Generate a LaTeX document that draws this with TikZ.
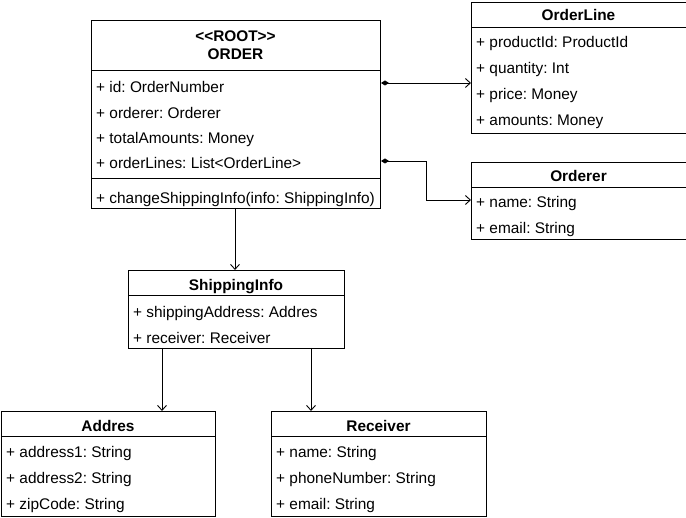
\documentclass[tikz,border=0pt]{standalone}
\usepackage{fontspec}
\setmainfont{Liberation Sans}
\usetikzlibrary{arrows.meta}
\frenchspacing
\begin{document}
\begin{tikzpicture}[x=1pt,y=-1pt,
  every node/.style={font=\fontsize{15.4}{17}\selectfont},
  cls/.style={draw=black,line width=1pt,anchor=north west,inner sep=0pt,fill=white},
  sep/.style={line width=1pt},
  attr/.style={anchor=base west,inner sep=0pt,yshift=-5.5pt},
  head/.style={anchor=base,inner sep=0pt,yshift=-5.5pt,font=\fontsize{15.4}{17}\selectfont\bfseries},
  conn/.style={line width=0.9pt,-{Straight Barb[length=5pt,width=9pt,line width=0.9pt]}},
  comp/.style={line width=0.9pt,{Diamond[length=8pt,width=5pt]}-{Straight Barb[length=5pt,width=9pt,line width=0.9pt]}}
]
\useasboundingbox (0,0) rectangle (686,518);

% ORDER
\node[cls,minimum width=289pt,minimum height=188pt] (order) at (91,20) {};
\node[head] (ordhead) at (235.5,36) {<{}<ROOT>{}>};
\node[head] (ordname) at (235.5,54) {ORDER};
\draw[sep] (91,71) -- (380,71);
\node[attr] (o1) at (96,87) {+ id: OrderNumber};
\node[attr] (o2) at (96,113) {+ orderer: Orderer};
\node[attr] (o3) at (96,138) {+ totalAmounts: Money};
\node[attr] (o4) at (96,163) {+ orderLines: List<OrderLine>};
\draw[sep] (91,179) -- (380,179);
\node[attr] (om) at (96,198) {+ changeShippingInfo(info: ShippingInfo)};

% OrderLine
\node[cls,minimum width=215pt,minimum height=131pt] (ol) at (471,2) {};
\node[head] (olh) at (578.5,15) {OrderLine};
\draw[sep] (471,28) -- (686,28);
\node[attr] (ol1) at (476,42) {+ productId: ProductId};
\node[attr] (ol2) at (476,68) {+ quantity: Int};
\node[attr] (ol3) at (476,94) {+ price: Money};
\node[attr] (ol4) at (476,120) {+ amounts: Money};

% Orderer
\node[cls,minimum width=215pt,minimum height=77pt] (orr) at (471,162) {};
\node[head] (orrh) at (578.5,176) {Orderer};
\draw[sep] (471,188) -- (686,188);
\node[attr] (orr1) at (476,202) {+ name: String};
\node[attr] (orr2) at (476,228) {+ email: String};

% ShippingInfo
\node[cls,minimum width=216pt,minimum height=78pt] (si) at (128,270) {};
\node[head] (sih) at (236,285) {ShippingInfo};
\draw[sep] (128,296) -- (344,296);
\node[attr] (si1) at (133,312) {+ shippingAddress: Addres};
\node[attr] (si2) at (133,338) {+ receiver: Receiver};

% Addres
\node[cls,minimum width=214pt,minimum height=105pt] (ad) at (1,411) {};
\node[head] (adh) at (108,426) {Addres};
\draw[sep] (1,437) -- (215,437);
\node[attr] (ad1) at (6,452) {+ address1: String};
\node[attr] (ad2) at (6,478) {+ address2: String};
\node[attr] (ad3) at (6,504) {+ zipCode: String};

% Receiver
\node[cls,minimum width=215pt,minimum height=105pt] (rc) at (271,411) {};
\node[head] (rch) at (378.5,426) {Receiver};
\draw[sep] (271,437) -- (486,437);
\node[attr] (rc1) at (276,452) {+ name: String};
\node[attr] (rc2) at (276,478) {+ phoneNumber: String};
\node[attr] (rc3) at (276,504) {+ email: String};

% connectors
\draw[comp] (order.east |- 0,83) -- (ol.west |- 0,83);
\draw[comp] (order.east |- 0,161) -- (426,161) -- (426,200) -- (orr.west |- 0,200);
\draw[conn] (235,208) -- (si.north -| 235,0);
\draw[conn] (162,348) -- (ad.north -| 162,0);
\draw[conn] (311,348) -- (rc.north -| 311,0);
\end{tikzpicture}
\end{document}
